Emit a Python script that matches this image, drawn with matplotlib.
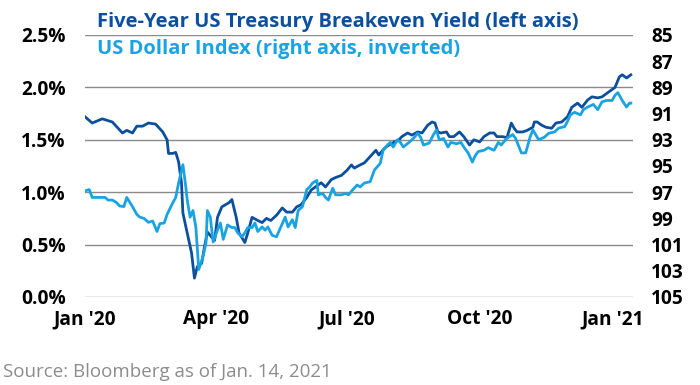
import numpy as np
import pandas as pd
import matplotlib
matplotlib.use("Agg")
import matplotlib.pyplot as plt
import matplotlib.dates as mdates

plt.rcParams["font.family"] = ["Open Sans", "DejaVu Sans"]

# --- breakeven yield (%), left axis
be_dates = [
    "2020-01-01", "2020-01-06", "2020-01-13", "2020-01-20", "2020-01-27", "2020-01-30",
    "2020-02-03", "2020-02-06", "2020-02-10", "2020-02-14", "2020-02-19", "2020-02-24",
    "2020-02-27", "2020-02-28", "2020-03-02", "2020-03-04", "2020-03-06", "2020-03-08",
    "2020-03-09", "2020-03-12", "2020-03-15", "2020-03-17", "2020-03-19", "2020-03-22",
    "2020-03-24", "2020-03-26", "2020-03-29", "2020-03-31", "2020-04-02", "2020-04-05",
    "2020-04-10", "2020-04-12", "2020-04-15", "2020-04-17", "2020-04-21", "2020-04-23",
    "2020-04-26", "2020-04-30", "2020-05-03", "2020-05-06", "2020-05-09", "2020-05-13",
    "2020-05-17", "2020-05-20", "2020-05-24", "2020-05-27", "2020-05-30", "2020-06-03",
    "2020-06-06", "2020-06-09", "2020-06-13", "2020-06-16", "2020-06-20", "2020-06-23",
    "2020-06-27", "2020-07-01", "2020-07-04", "2020-07-06", "2020-07-10", "2020-07-13",
    "2020-07-15", "2020-07-19", "2020-07-21", "2020-07-23", "2020-07-27", "2020-07-30",
    "2020-08-03", "2020-08-06", "2020-08-08", "2020-08-12", "2020-08-15", "2020-08-19",
    "2020-08-22", "2020-08-26", "2020-08-29", "2020-08-31", "2020-09-02", "2020-09-04",
    "2020-09-08", "2020-09-10", "2020-09-13", "2020-09-17", "2020-09-20", "2020-09-24",
    "2020-09-27", "2020-10-01", "2020-10-04", "2020-10-08", "2020-10-11", "2020-10-13",
    "2020-10-17", "2020-10-20", "2020-10-23", "2020-10-25", "2020-10-27", "2020-10-31",
    "2020-11-03", "2020-11-07", "2020-11-08", "2020-11-10", "2020-11-13", "2020-11-16",
    "2020-11-20", "2020-11-23", "2020-11-27", "2020-12-01", "2020-12-04", "2020-12-08",
    "2020-12-11", "2020-12-15", "2020-12-18", "2020-12-22", "2020-12-25", "2020-12-30",
    "2021-01-03", "2021-01-06", "2021-01-08", "2021-01-11", "2021-01-14",
]
be_yield = [
    1.72, 1.66, 1.70, 1.67, 1.565, 1.59,
    1.565, 1.63, 1.63, 1.66, 1.65, 1.575,
    1.50, 1.37, 1.37, 1.38, 1.29, 1.09,
    0.80, 0.61, 0.42, 0.18, 0.29, 0.32,
    0.48, 0.62, 0.57, 0.54, 0.76, 0.86,
    0.90, 0.93, 0.76, 0.61, 0.52, 0.61,
    0.76, 0.73, 0.71, 0.75, 0.73, 0.78,
    0.85, 0.81, 0.81, 0.86, 0.88, 0.95,
    1.02, 1.05, 1.09, 1.05, 1.12, 1.14,
    1.16, 1.21, 1.26, 1.23, 1.26, 1.28,
    1.31, 1.37, 1.40, 1.355, 1.42, 1.45,
    1.48, 1.50, 1.53, 1.565, 1.545, 1.575,
    1.565, 1.64, 1.67, 1.66, 1.575, 1.565,
    1.575, 1.53, 1.53, 1.575, 1.53, 1.45,
    1.50, 1.48, 1.53, 1.565, 1.565, 1.53,
    1.53, 1.52, 1.66, 1.61, 1.575, 1.575,
    1.59, 1.62, 1.67, 1.67, 1.64, 1.62,
    1.61, 1.66, 1.67, 1.72, 1.81, 1.85,
    1.81, 1.88, 1.91, 1.90, 1.91, 1.96,
    2.00, 2.10, 2.12, 2.09, 2.12,
]

# --- US dollar index, right axis (inverted)
dxy_dates = [
    "2020-01-01", "2020-01-04", "2020-01-06", "2020-01-10", "2020-01-15", "2020-01-17",
    "2020-01-20", "2020-01-23", "2020-01-25", "2020-01-28", "2020-01-30", "2020-02-03",
    "2020-02-06", "2020-02-08", "2020-02-11", "2020-02-14", "2020-02-17", "2020-02-20",
    "2020-02-22", "2020-02-25", "2020-02-27", "2020-03-02", "2020-03-04", "2020-03-06",
    "2020-03-09", "2020-03-11", "2020-03-12", "2020-03-14", "2020-03-16", "2020-03-18",
    "2020-03-20", "2020-03-23", "2020-03-25", "2020-03-26", "2020-03-28", "2020-03-30",
    "2020-04-02", "2020-04-04", "2020-04-06", "2020-04-09", "2020-04-12", "2020-04-14",
    "2020-04-16", "2020-04-19", "2020-04-21", "2020-04-23", "2020-04-26", "2020-04-28",
    "2020-04-30", "2020-05-03", "2020-05-05", "2020-05-07", "2020-05-10", "2020-05-13",
    "2020-05-15", "2020-05-19", "2020-05-21", "2020-05-24", "2020-05-26", "2020-05-28",
    "2020-05-31", "2020-06-03", "2020-06-05", "2020-06-07", "2020-06-10", "2020-06-11",
    "2020-06-14", "2020-06-16", "2020-06-18", "2020-06-21", "2020-06-23", "2020-06-27",
    "2020-06-30", "2020-07-02", "2020-07-05", "2020-07-08", "2020-07-10", "2020-07-13",
    "2020-07-17", "2020-07-20", "2020-07-24", "2020-07-26", "2020-07-29", "2020-07-31",
    "2020-08-02", "2020-08-05", "2020-08-07", "2020-08-09", "2020-08-13", "2020-08-16",
    "2020-08-19", "2020-08-21", "2020-08-23", "2020-08-27", "2020-08-30", "2020-09-01",
    "2020-09-03", "2020-09-06", "2020-09-09", "2020-09-11", "2020-09-15", "2020-09-18",
    "2020-09-20", "2020-09-23", "2020-09-26", "2020-09-28", "2020-09-30", "2020-10-04",
    "2020-10-07", "2020-10-11", "2020-10-14", "2020-10-16", "2020-10-19", "2020-10-21",
    "2020-10-24", "2020-10-26", "2020-10-30", "2020-11-02", "2020-11-05", "2020-11-07",
    "2020-11-11", "2020-11-15", "2020-11-18", "2020-11-22", "2020-11-25", "2020-11-29",
    "2020-12-01", "2020-12-03", "2020-12-06", "2020-12-10", "2020-12-12", "2020-12-15",
    "2020-12-19", "2020-12-22", "2020-12-25", "2020-12-28", "2021-01-01", "2021-01-03",
    "2021-01-05", "2021-01-08", "2021-01-11", "2021-01-13", "2021-01-14",
]
dxy = [
    96.9, 96.8, 97.4, 97.4, 97.4, 97.6,
    97.6, 97.8, 98.05, 98.1, 97.4, 98.1,
    98.7, 98.9, 99.0, 99.3, 99.2, 100.0,
    99.4, 99.35, 98.7, 97.8, 97.4, 96.3,
    94.9, 96.6, 97.6, 98.9, 98.4, 99.7,
    102.9, 101.9, 100.9, 98.4, 98.9, 100.8,
    99.9, 99.35, 100.6, 99.5, 99.7, 99.7,
    100.1, 100.4, 100.1, 99.7, 99.7, 99.35,
    100.0, 99.65, 99.9, 99.65, 100.3, 100.4,
    99.9, 98.9, 99.65, 99.1, 99.7, 98.4,
    98.1, 96.8, 96.6, 96.3, 96.1, 97.2,
    97.1, 97.4, 97.6, 96.7, 97.2, 97.2,
    97.1, 97.2, 96.8, 96.45, 96.6, 96.3,
    96.2, 95.3, 94.8, 93.8, 93.4, 93.2,
    93.55, 93.0, 93.2, 93.55, 93.2, 92.9,
    92.5, 92.8, 93.4, 93.25, 92.6, 92.25,
    93.0, 92.9, 93.55, 93.2, 93.3, 93.2,
    93.55, 94.0, 94.7, 94.2, 93.9, 93.8,
    93.6, 93.8, 93.2, 93.4, 93.0, 92.8,
    92.6, 92.9, 94.0, 94.0, 92.8, 92.25,
    93.0, 92.8, 92.5, 92.4, 92.1, 92.0,
    91.6, 91.1, 90.9, 91.1, 90.7, 90.5,
    90.3, 90.7, 90.1, 90.0, 90.0, 89.6,
    89.4, 90.0, 90.5, 90.2, 90.2,
]

left_ticks = [0.0, 0.5, 1.0, 1.5, 2.0, 2.5]
right_ticks = [85, 87, 89, 91, 93, 95, 97, 99, 101, 103, 105]
x_ticks = ["2020-01-01", "2020-04-01", "2020-07-01", "2020-10-01", "2021-01-01"]
x_labels = ["Jan '20", "Apr '20", "Jul '20", "Oct '20", "Jan '21"]

DARK = "#0B4F9E"
LIGHT = "#1AA3E3"
GRID = "#8A8A8A"

fig = plt.figure(figsize=(7, 3.85), dpi=100)
ax = fig.add_axes([0.1214, 0.2286, 0.7829, 0.6805])
ax2 = ax.twinx()

ax.plot(pd.to_datetime(be_dates), be_yield, color=DARK, lw=2.0, solid_joinstyle="round")
ax2.plot(pd.to_datetime(dxy_dates), dxy, color=LIGHT, lw=2.0, solid_joinstyle="round")

ax.set_ylim(0, 2.5)
ax.set_yticks(left_ticks)
ax.set_yticklabels([f"{t:.1f}%" for t in left_ticks])
ax2.set_ylim(105, 85)
ax2.set_yticks(right_ticks)
ax2.set_yticklabels([str(t) for t in right_ticks])

ax.set_xlim(pd.Timestamp("2020-01-01"), pd.Timestamp("2021-01-15 12:00"))
ax.set_xticks(pd.to_datetime(x_ticks))
ax.set_xticklabels(x_labels)

for a in (ax, ax2):
    for s in a.spines.values():
        s.set_visible(False)
    a.tick_params(length=0, labelsize=13.8)
    for lbl in a.get_xticklabels() + a.get_yticklabels():
        lbl.set_fontweight("bold")
ax.tick_params(axis="y", pad=14)
ax.tick_params(axis="x", pad=9)
ax2.tick_params(axis="y", pad=13)

ax.grid(axis="y", color=GRID, lw=1.0)
ax.set_axisbelow(True)

fig.text(0.139, 0.944, "Five-Year US Treasury Breakeven Yield (left axis)",
         color=DARK, fontsize=14.5, fontweight="bold", va="center")
fig.text(0.139, 0.873, "US Dollar Index (right axis, inverted)",
         color=LIGHT, fontsize=14.5, fontweight="bold", va="center")
fig.text(0.004, 0.033, "Source: Bloomberg as of Jan. 14, 2021",
         color="#8C8C8C", fontsize=13.5, va="center")

fig.savefig("out.png", dpi=100)
